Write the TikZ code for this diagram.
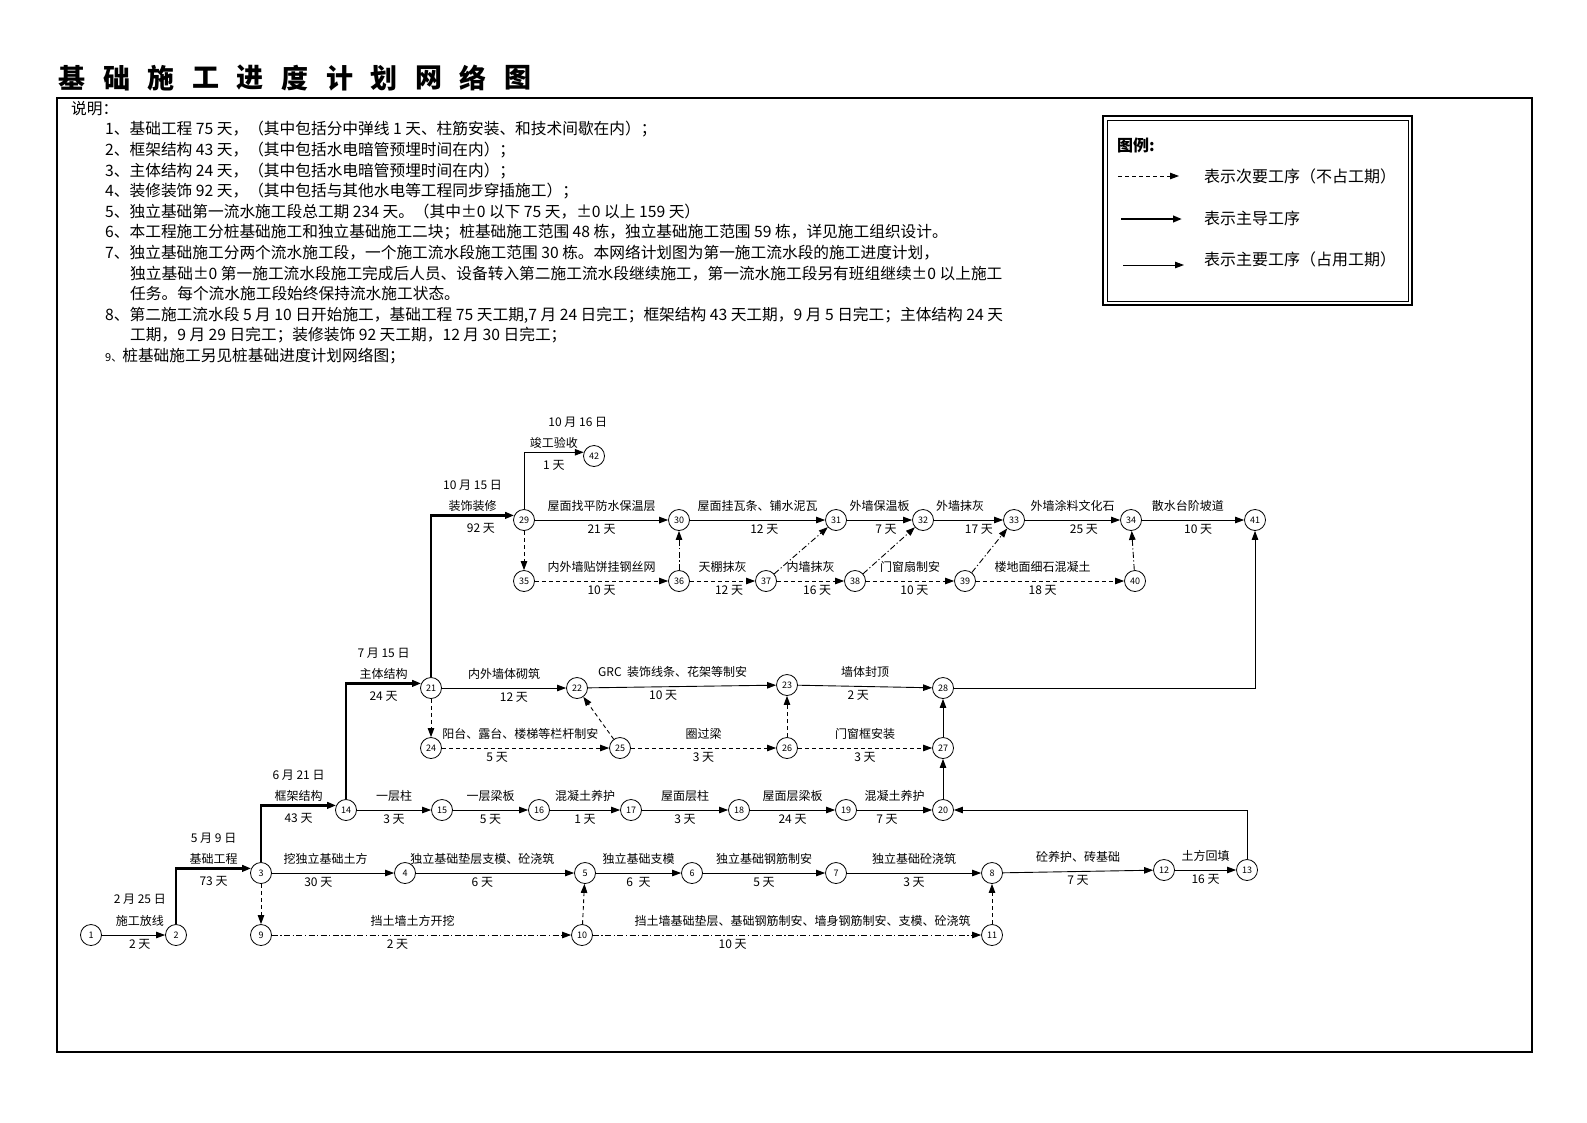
\documentclass[tikz,border=0pt]{standalone}
\usepackage{fontspec}
\setmainfont{Noto Sans CJK SC}
\usetikzlibrary{arrows.meta, positioning}

\tikzset{
    ev/.style={circle, draw, line width=0.8pt, minimum size=21pt, inner sep=0pt, font=\fontsize{9}{9}\selectfont},
    work/.style={-{Triangle[length=9pt,width=6.5pt]}, line width=0.9pt},
    crit/.style={work, line width=2.3pt},
    dummy/.style={work, dash pattern=on 4pt off 3pt},
    dumdot/.style={work, dash pattern=on 6pt off 2.5pt on 1.2pt off 2.5pt},
    lbl/.style={inner sep=0pt, anchor=base, font=\fontsize{12}{12}\selectfont},
    nm/.style={lbl, yshift=10pt},
    du/.style={lbl, yshift=-13pt},
    dt/.style={lbl, yshift=32pt},
    nmk/.style={lbl, pos=0.75, yshift=5pt},
    duk/.style={lbl, pos=0.75, yshift=-17pt},
    dtk/.style={lbl, pos=0.75, yshift=26pt},
    legtxt/.style={anchor=west, inner sep=0pt, font=\fontsize{16}{16}\selectfont}
}

\begin{document}
\begin{tikzpicture}[x=1pt, y=-1pt]
\useasboundingbox (0,0) rectangle (1587,1122);

% title
\foreach \c [count=\i] in {基,础,施,工,进,度,计,划,网,络,图}
    \node[font=\fontsize{27}{27}\selectfont\bfseries, inner sep=0pt] (t\i) at ({72+44.6*(\i-1)}, 78) {\c};

% frame
\draw[line width=1.8pt] (57,98) rectangle (1532,1052);

% notes
\node[anchor=north west, align=left, inner sep=0pt, font=\fontsize{15.7}{20.6}\selectfont] (notes) at (71,101) {%
说明：\\
\hspace*{34pt}1、基础工程 75 天，（其中包括分中弹线 1 天、柱筋安装、和技术间歇在内）；\\
\hspace*{34pt}2、框架结构 43 天，（其中包括水电暗管预埋时间在内）；\\
\hspace*{34pt}3、主体结构 24 天，（其中包括水电暗管预埋时间在内）；\\
\hspace*{34pt}4、装修装饰 92 天，（其中包括与其他水电等工程同步穿插施工）；\\
\hspace*{34pt}5、独立基础第一流水施工段总工期 234 天。（其中±0 以下 75 天，±0 以上 159 天）\\
\hspace*{34pt}6、本工程施工分桩基础施工和独立基础施工二块；桩基础施工范围 48 栋，独立基础施工范围 59 栋，详见施工组织设计。\\
\hspace*{34pt}7、独立基础施工分两个流水施工段，一个施工流水段施工范围 30 栋。本网络计划图为第一施工流水段的施工进度计划，\\
\hspace*{59pt}独立基础±0 第一施工流水段施工完成后人员、设备转入第二施工流水段继续施工，第一流水施工段另有班组继续±0 以上施工\\
\hspace*{59pt}任务。每个流水施工段始终保持流水施工状态。\\
\hspace*{34pt}8、第二施工流水段 5 月 10 日开始施工，基础工程 75 天工期,7 月 24 日完工；框架结构 43 天工期，9 月 5 日完工；主体结构 24 天\\
\hspace*{59pt}工期，9 月 29 日完工；装修装饰 92 天工期，12 月 30 日完工；\\
\hspace*{34pt}{\fontsize{11}{11}\selectfont 9、}桩基础施工另见桩基础进度计划网络图；};

% legend
\draw[line width=1.5pt] (1103,116) rectangle (1412,305);
\draw[line width=0.6pt] (1107,120) rectangle (1408,301);
\node[anchor=west, inner sep=0pt, font=\fontsize{16}{16}\selectfont\bfseries] (leg) at (1117,145) {图例:};
\coordinate (la1) at (1118,176); \coordinate (lb1) at (1179,176);
\coordinate (la2) at (1121,219); \coordinate (lb2) at (1182,219);
\coordinate (la3) at (1123,265); \coordinate (lb3) at (1184,265);
\draw[dummy] (la1) -- (lb1);
\draw[crit] (la2) -- (lb2);
\draw[work] (la3) -- (lb3);
\node[legtxt] (lt1) at (1204,176) {表示次要工序（不占工期）};
\node[legtxt] (lt2) at (1204,218) {表示主导工序};
\node[legtxt] (lt3) at (1204,259) {表示主要工序（占用工期）};

% events
\node[ev] (n1) at (91,935) {1};
\node[ev] (n2) at (176,935) {2};
\node[ev] (n3) at (261,873) {3};
\node[ev] (n4) at (405,873) {4};
\node[ev] (n5) at (585,873) {5};
\node[ev] (n6) at (692,873) {6};
\node[ev] (n7) at (836,873) {7};
\node[ev] (n8) at (992,873) {8};
\node[ev] (n9) at (261,935) {9};
\node[ev] (n10) at (582,935) {10};
\node[ev] (n11) at (992,935) {11};
\node[ev] (n12) at (1164,870) {12};
\node[ev] (n13) at (1247,870) {13};
\node[ev] (n14) at (346,810) {14};
\node[ev] (n15) at (442,810) {15};
\node[ev] (n16) at (539,810) {16};
\node[ev] (n17) at (631,810) {17};
\node[ev] (n18) at (739,810) {18};
\node[ev] (n19) at (846,810) {19};
\node[ev] (n20) at (943,810) {20};
\node[ev] (n21) at (431,688) {21};
\node[ev] (n22) at (577,688) {22};
\node[ev] (n23) at (787,685) {23};
\node[ev] (n24) at (431,748) {24};
\node[ev] (n25) at (620,748) {25};
\node[ev] (n26) at (787,748) {26};
\node[ev] (n27) at (943,748) {27};
\node[ev] (n28) at (943,688) {28};
\node[ev] (n29) at (524,520) {29};
\node[ev] (n30) at (679,520) {30};
\node[ev] (n31) at (836,520) {31};
\node[ev] (n32) at (923,520) {32};
\node[ev] (n33) at (1014,520) {33};
\node[ev] (n34) at (1131,520) {34};
\node[ev] (n35) at (524,581) {35};
\node[ev] (n36) at (679,581) {36};
\node[ev] (n37) at (766,581) {37};
\node[ev] (n38) at (855,581) {38};
\node[ev] (n39) at (965,581) {39};
\node[ev] (n40) at (1135,581) {40};
\node[ev] (n41) at (1255,520) {41};
\node[ev] (n42) at (594,456) {42};

% foundation row
\draw[work] (n1) -- node[nm, pos=0.6]{施工放线} node[du, pos=0.6]{2 天} node[dt, pos=0.6]{2 月 25 日} (n2);
\draw[crit] (n2) |- node[nmk]{基础工程} node[duk]{73 天} node[dtk]{5 月 9 日} (n3.155);
\draw[work] (n3) -- node[nm, pos=0.44]{挖独立基础土方} node[du, pos=0.38]{30 天} (n4);
\draw[work] (n4) -- node[nm, pos=0.42]{独立基础垫层支模、砼浇筑} node[du, pos=0.42]{6 天} (n5);
\draw[work] (n5) -- node[nm]{独立基础支模} node[du]{6~~天} (n6);
\draw[work] (n6) -- node[nm]{独立基础钢筋制安} node[du]{5 天} (n7);
\draw[work] (n7) -- node[nm]{独立基础砼浇筑} node[du]{3 天} (n8);
\draw[work] (n8) -- node[nm]{砼养护、砖基础} node[du]{7 天} (n12);
\draw[work] (n12) -- node[nm]{土方回填} node[du]{16 天} (n13);
\draw[dummy] (n3) -- (n9);
\draw[dumdot] (n9) -- node[nm, pos=0.47]{挡土墙土方开挖} node[du, pos=0.42]{2 天} (n10);
\draw[dummy] (n10) -- (n5);
\draw[dumdot] (n10) -- node[nm, pos=0.54]{挡土墙基础垫层、基础钢筋制安、墙身钢筋制安、支模、砼浇筑} node[du, pos=0.36]{10 天} (n11);
\draw[dummy] (n11) -- (n8);
\draw[work] (n13) |- (n20);

% frame row
\draw[crit] (n3) |- node[nmk]{框架结构} node[duk]{43 天} node[dtk]{6 月 21 日} (n14.155);
\draw[work] (n14) -- node[nm]{一层柱} node[du]{3 天} (n15);
\draw[work] (n15) -- node[nm]{一层梁板} node[du]{5 天} (n16);
\draw[work] (n16) -- node[nm]{混凝土养护} node[du]{1 天} (n17);
\draw[work] (n17) -- node[nm]{屋面层柱} node[du]{3 天} (n18);
\draw[work] (n18) -- node[nm]{屋面层梁板} node[du]{24 天} (n19);
\draw[work] (n19) -- node[nm]{混凝土养护} node[du, pos=0.4]{7 天} (n20);
\draw[work] (n20) -- (n27);
\draw[work] (n27) -- (n28);

% main structure row
\draw[crit] (n14) |- node[nmk]{主体结构} node[duk]{24 天} node[dtk]{7 月 15 日} (n21.155);
\draw[work] (n21) -- node[nm]{内外墙体砌筑} node[du, pos=0.58]{12 天} (n22);
\draw[work] (n22) -- node[nm, pos=0.45]{GRC~~装饰线条、花架等制安} node[du, pos=0.4]{10 天} (n23);
\draw[work] (n23) -- node[nm]{墙体封顶} node[du, pos=0.45]{2 天} (n28);
\draw[dummy] (n21) -- (n24);
\draw[dummy] (n24) -- node[nm, pos=0.47]{阳台、露台、楼梯等栏杆制安} node[du, pos=0.33]{5 天} (n25);
\draw[dummy] (n25) -- (n22);
\draw[dummy] (n25) -- node[nm]{圈过梁} node[du]{3 天} (n26);
\draw[dummy] (n26) -- (n23);
\draw[dummy] (n26) -- node[nm]{门窗框安装} node[du]{3 天} (n27);
\draw[work] (n28) -| (n41);

% finishing rows
\draw[crit] (n21) |- node[nmk]{装饰装修} node[duk, pos=0.8]{92 天} node[dtk]{10 月 15 日} (n29.155);
\draw[work] (n29) |- node[nmk]{竣工验收} node[duk]{1 天} node[dtk, pos=0.95]{10 月 16 日} (n42.160);
\draw[work] (n29) -- node[nm]{屋面找平防水保温层} node[du]{21 天} (n30);
\draw[work] (n30) -- node[nm]{屋面挂瓦条、铺水泥瓦} node[du, pos=0.55]{12 天} (n31);
\draw[work] (n31) -- node[nm]{外墙保温板} node[du, pos=0.6]{7 天} (n32);
\draw[work] (n32) -- node[nm, pos=0.38]{外墙抹灰} node[du, pos=0.65]{17 天} (n33);
\draw[work] (n33) -- node[nm]{外墙涂料文化石} node[du, pos=0.62]{25 天} (n34);
\draw[work] (n34) -- node[nm, pos=0.45]{散水台阶坡道} node[du, pos=0.55]{10 天} (n41);
\draw[dummy] (n29) -- (n35);
\draw[dummy] (n35) -- node[nm]{内外墙贴饼挂钢丝网} node[du]{10 天} (n36);
\draw[dumdot] (n36) -- (n30);
\draw[dummy] (n36) -- node[nm]{天棚抹灰} node[du, pos=0.6]{12 天} (n37);
\draw[dumdot] (n37) -- (n31);
\draw[dummy] (n37) -- node[nm]{内墙抹灰} node[du, pos=0.6]{16 天} (n38);
\draw[dumdot] (n38) -- (n32);
\draw[dummy] (n38) -- node[nm]{门窗扇制安} node[du, pos=0.55]{10 天} (n39);
\draw[dumdot] (n39) -- (n33);
\draw[dummy] (n39) -- node[nm, pos=0.45]{楼地面细石混凝土} node[du, pos=0.45]{18 天} (n40);
\draw[dumdot] (n40) -- (n34);

\end{tikzpicture}
\end{document}
